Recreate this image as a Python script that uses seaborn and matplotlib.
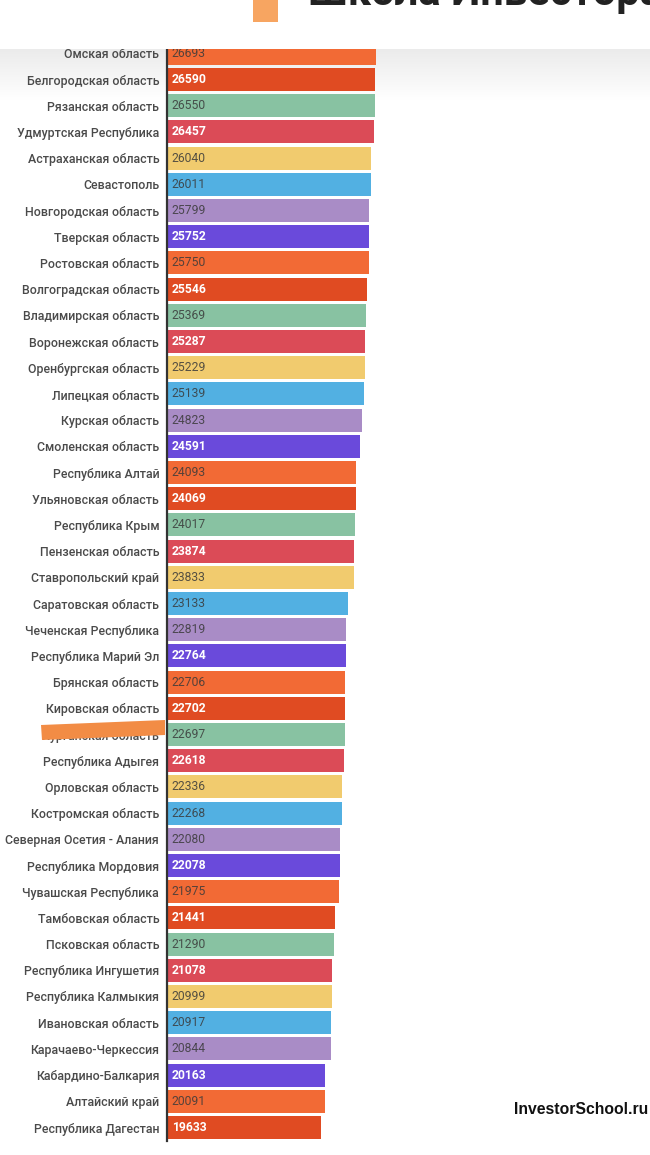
import numpy as np
import pandas as pd
import matplotlib
matplotlib.use("Agg")
import matplotlib.pyplot as plt
import seaborn as sns
from matplotlib.patches import Rectangle, Polygon

regions = [
    "Омская область", "Белгородская область", "Рязанская область", "Удмуртская Республика",
    "Астраханская область", "Севастополь", "Новгородская область", "Тверская область",
    "Ростовская область", "Волгоградская область", "Владимирская область", "Воронежская область",
    "Оренбургская область", "Липецкая область", "Курская область", "Смоленская область",
    "Республика Алтай", "Ульяновская область", "Республика Крым", "Пензенская область",
    "Ставропольский край", "Саратовская область", "Чеченская Республика", "Республика Марий Эл",
    "Брянская область", "Кировская область", "Курганская область", "Республика Адыгея",
    "Орловская область", "Костромская область", "Северная Осетия - Алания", "Республика Мордовия",
    "Чувашская Республика", "Тамбовская область", "Псковская область", "Республика Ингушетия",
    "Республика Калмыкия", "Ивановская область", "Карачаево-Черкессия", "Кабардино-Балкария",
    "Алтайский край", "Республика Дагестан",
]
values = [
    26693, 26590, 26550, 26457, 26040, 26011, 25799, 25752,
    25750, 25546, 25369, 25287, 25229, 25139, 24823, 24591,
    24093, 24069, 24017, 23874, 23833, 23133, 22819, 22764,
    22706, 22702, 22697, 22618, 22336, 22268, 22080, 22078,
    21975, 21441, 21290, 21078, 20999, 20917, 20844, 20163,
    20091, 19633,
]
cycle_colors = ["#F26A35", "#E04B22", "#88C2A2", "#DB4B57",
                "#F1CB6E", "#52B0E2", "#A98CC6", "#6A4ADB"]
light_label = [False, True, False, True, False, False, False, True]

W, H = 650, 1155
fig = plt.figure(figsize=(W / 100, H / 100), dpi=100)
fig.patch.set_facecolor("white")

# soft shadow below the header
bg = fig.add_axes([0, 0, 1, 1], zorder=0)
grad = np.linspace(1, 0, 256).reshape(-1, 1)
bg.imshow(np.concatenate([grad] * 2, axis=1),
          cmap=matplotlib.colors.LinearSegmentedColormap.from_list("g", ["#EBEBEB", "#FFFFFF"]),
          aspect="auto", origin="lower", extent=[0, W, H - 100, H - 49], vmin=0, vmax=1)
bg.set_xlim(0, W)
bg.set_ylim(0, H)
bg.axis("off")

row_h = 26.2
top_px = 53.3 - 0.5 * row_h
bot_px = top_px + row_h * len(regions)
left_px = 167.5
ax = fig.add_axes([left_px / W, (H - bot_px) / H, (W - left_px) / W, (bot_px - top_px) / H], zorder=1)
ax.patch.set_alpha(0)

df = pd.DataFrame({"region": regions, "value": values})
palette = [cycle_colors[i % len(cycle_colors)] for i in range(len(regions))]
sns.barplot(data=df, x="value", y="region", hue="region", palette=palette, legend=False,
            orient="h", width=0.88, saturation=1, ax=ax, dodge=False)

scale = 0.00782
ax.set_xlim(0, (W - left_px) / scale)
ax.set_ylim(len(regions) - 0.5, -0.5)
for s in ["top", "right", "bottom"]:
    ax.spines[s].set_visible(False)
ax.spines["left"].set_color("#333333")
ax.spines["left"].set_linewidth(1.6)
ax.set_xticks([])
ax.set_xlabel("")
ax.set_ylabel("")
ax.tick_params(axis="y", length=0, pad=6)
for lab in ax.get_yticklabels():
    lab.set_fontfamily("Roboto")
    lab.set_fontsize(8.9)
    lab.set_fontweight(500)
    lab.set_color("#4a4a4a")

for i, v in enumerate(values):
    lt = light_label[i % len(cycle_colors)]
    ax.annotate(str(v), xy=(0, i), xytext=(3, 0), textcoords="offset points",
                va="center", ha="left", fontfamily="Roboto", fontsize=8.7,
                fontweight="bold" if lt else "normal",
                color="white" if lt else "#3a3a3a", alpha=1 if lt else 0.85)

# redaction stroke over one label
over = fig.add_axes([0, 0, 1, 1], zorder=3)
over.set_xlim(0, W)
over.set_ylim(H, 0)
over.axis("off")
over.add_patch(Polygon([(41, 725), (165, 720), (165, 735), (42, 740)], closed=True,
                       facecolor="#F28C45", edgecolor="none"))

# header strip
hdr = fig.add_axes([0, (H - 49) / H, 1, 49 / H], zorder=4)
hdr.set_xlim(0, W)
hdr.set_ylim(49, 0)
hdr.set_facecolor("white")
hdr.axis("off")
hdr.add_patch(Rectangle((0, 0), W, 49, facecolor="white", edgecolor="none"))
hdr.add_patch(Rectangle((253, -5), 25, 27, facecolor="#F7A561", edgecolor="none"))
hdr.text(308, 5.5, "Школа Инвестора", fontsize=30, fontweight="bold", color="#222222",
         fontfamily="Roboto", va="baseline", ha="left", clip_on=True)

fig.text(648 / W, 1 - 1110 / H, "InvestorSchool.ru", ha="right", va="center",
         fontsize=11.3, fontweight="bold", color="#111111", fontfamily="Liberation Sans")

fig.savefig("out.png", dpi=100, facecolor="white")
